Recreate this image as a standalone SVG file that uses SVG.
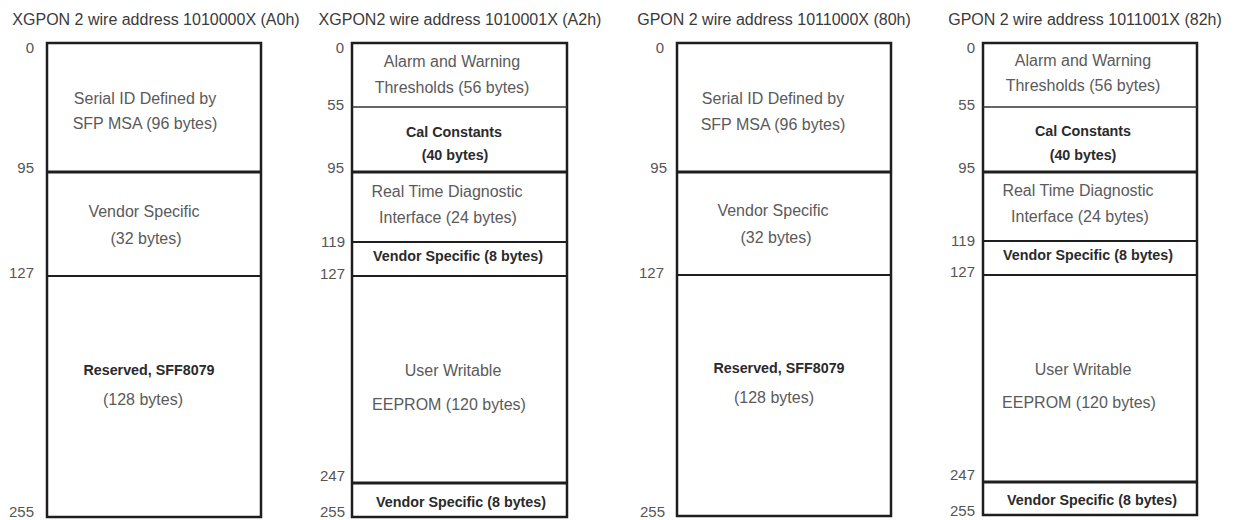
<svg xmlns="http://www.w3.org/2000/svg" width="1235" height="520" viewBox="0 0 1235 520">
<style>
text{font-family:"Liberation Sans",Arial,sans-serif}
.t{font-size:16px;fill:#3a3a3a;text-anchor:middle}
.b{font-size:16px;fill:#5a5a5a;text-anchor:middle}
.k{font-size:14.3px;font-weight:bold;fill:#2a2a2a;text-anchor:middle}
.n{font-size:15px;fill:#555;text-anchor:end}
.box{fill:#fff;stroke:#1e1e1e;stroke-width:2.5}
.d{stroke:#1e1e1e;stroke-width:2}
.d1{stroke:#333;stroke-width:1.4}
.d3{stroke:#1e1e1e;stroke-width:3}
</style>
<rect width="1235" height="520" fill="#fff"/>

<g id="map-a0h">
<text class="t" x="156" y="25">XGPON 2 wire address 1010000X (A0h)</text>
<rect class="box" x="47" y="43" width="214" height="474"/>
<line class="d3" x1="47" y1="172" x2="261" y2="172"/>
<line class="d" x1="47" y1="276" x2="261" y2="276"/>
<text class="n" x="34" y="53">0</text>
<text class="n" x="34" y="173">95</text>
<text class="n" x="34" y="278">127</text>
<text class="n" x="34" y="517">255</text>
<g id="a0-serial"><text class="b" x="145" y="104">Serial ID Defined by</text><text class="b" x="145" y="129">SFP MSA (96 bytes)</text></g>
<g id="a0-vendor"><text class="b" x="144" y="217">Vendor Specific</text><text class="b" x="146" y="244">(32 bytes)</text></g>
<g id="a0-reserved"><text class="k" x="149" y="375">Reserved, SFF8079</text><text class="b" x="143" y="405">(128 bytes)</text></g>
</g>

<g id="map-a2h">
<text class="t" x="460" y="25">XGPON2 wire address 1010001X (A2h)</text>
<rect class="box" x="352" y="43" width="215" height="474"/>
<line class="d1" x1="352" y1="107" x2="567" y2="107"/>
<line class="d3" x1="352" y1="172" x2="567" y2="172"/>
<line class="d" x1="352" y1="242" x2="567" y2="242"/>
<line class="d" x1="352" y1="276" x2="567" y2="276"/>
<line class="d3" x1="352" y1="483" x2="567" y2="483"/>
<text class="n" x="344" y="53">0</text>
<text class="n" x="344" y="110">55</text>
<text class="n" x="344" y="173">95</text>
<text class="n" x="345" y="247">119</text>
<text class="n" x="345" y="279">127</text>
<text class="n" x="345" y="481">247</text>
<text class="n" x="345" y="517">255</text>
<g id="a2-alarm"><text class="b" x="452" y="67">Alarm and Warning</text><text class="b" x="452" y="93">Thresholds (56 bytes)</text></g>
<g id="a2-cal"><text class="k" x="454" y="137">Cal Constants</text><text class="k" x="455" y="160">(40 bytes)</text></g>
<g id="a2-rtd"><text class="b" x="447" y="197">Real Time Diagnostic</text><text class="b" x="448" y="223">Interface (24 bytes)</text></g>
<g id="a2-vendor1"><text class="k" x="458" y="261">Vendor Specific (8 bytes)</text></g>
<g id="a2-user"><text class="b" x="453" y="376">User Writable</text><text class="b" x="449" y="410">EEPROM (120 bytes)</text></g>
<g id="a2-vendor2"><text class="k" x="461" y="507">Vendor Specific (8 bytes)</text></g>
</g>

<g id="map-80h">
<text class="t" x="774" y="25">GPON 2 wire address 1011000X (80h)</text>
<rect class="box" x="677" y="43" width="214" height="473"/>
<line class="d3" x1="677" y1="172" x2="891" y2="172"/>
<line class="d" x1="677" y1="275" x2="891" y2="275"/>
<text class="n" x="664" y="53">0</text>
<text class="n" x="667" y="173">95</text>
<text class="n" x="664" y="278">127</text>
<text class="n" x="665" y="517">255</text>
<g id="b0-serial"><text class="b" x="773" y="104">Serial ID Defined by</text><text class="b" x="773" y="130">SFP MSA (96 bytes)</text></g>
<g id="b0-vendor"><text class="b" x="773" y="216">Vendor Specific</text><text class="b" x="776" y="243">(32 bytes)</text></g>
<g id="b0-reserved"><text class="k" x="779" y="373">Reserved, SFF8079</text><text class="b" x="774" y="403">(128 bytes)</text></g>
</g>

<g id="map-82h">
<text class="t" x="1085" y="25">GPON 2 wire address 1011001X (82h)</text>
<rect class="box" x="983" y="43" width="214" height="472"/>
<line class="d1" x1="983" y1="107" x2="1197" y2="107"/>
<line class="d3" x1="983" y1="172" x2="1197" y2="172"/>
<line class="d" x1="983" y1="241" x2="1197" y2="241"/>
<line class="d" x1="983" y1="275" x2="1197" y2="275"/>
<line class="d3" x1="983" y1="482" x2="1197" y2="482"/>
<text class="n" x="975" y="53">0</text>
<text class="n" x="975" y="110">55</text>
<text class="n" x="975" y="173">95</text>
<text class="n" x="975" y="246">119</text>
<text class="n" x="975" y="277">127</text>
<text class="n" x="975" y="480">247</text>
<text class="n" x="975" y="516">255</text>
<g id="b2-alarm"><text class="b" x="1083" y="66">Alarm and Warning</text><text class="b" x="1083" y="91">Thresholds (56 bytes)</text></g>
<g id="b2-cal"><text class="k" x="1083" y="136">Cal Constants</text><text class="k" x="1083" y="160">(40 bytes)</text></g>
<g id="b2-rtd"><text class="b" x="1078" y="196">Real Time Diagnostic</text><text class="b" x="1080" y="222">Interface (24 bytes)</text></g>
<g id="b2-vendor1"><text class="k" x="1088" y="260">Vendor Specific (8 bytes)</text></g>
<g id="b2-user"><text class="b" x="1083" y="375">User Writable</text><text class="b" x="1079" y="408">EEPROM (120 bytes)</text></g>
<g id="b2-vendor2"><text class="k" x="1092" y="505">Vendor Specific (8 bytes)</text></g>
</g>

<g id="connectors"></g>
</svg>
